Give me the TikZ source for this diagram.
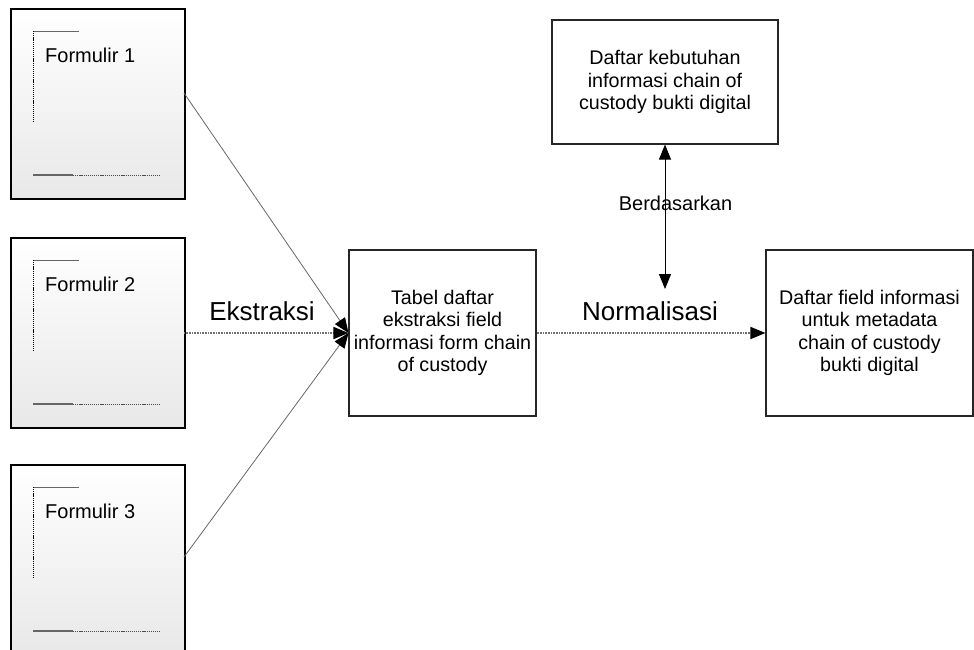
\documentclass[tikz,border=0pt]{standalone}
\usepackage{fontspec}
\setmainfont{Liberation Sans}
\usetikzlibrary{calc,arrows.meta}
\begin{document}
\begin{tikzpicture}[x=1pt,y=-1pt,
  formbox/.style={draw=black,line width=2.2pt,top color=white,bottom color=gray!18,
    minimum width=174pt,minimum height=190pt,inner sep=0pt,anchor=north west},
  procbox/.style={draw=black!85,line width=1.1pt,inner sep=0pt,align=center,
    font=\fontsize{19.7}{22.5}\selectfont},
  normtxt/.style={font=\fontsize{20}{22.5}\selectfont,inner sep=0pt},
  bigtxt/.style={font=\fontsize{26}{30}\selectfont,inner sep=0pt},
  bracketh/.style={draw=black!60,line width=0.8pt},
  bracketv/.style={draw=black,line width=0.8pt,dash pattern=on 1.2pt off 0.9pt},
  conn/.style={draw=black!60,line width=0.8pt},
  dotconn/.style={draw=black!55,line width=1.6pt,dash pattern=on 0.8pt off 0.8pt},
  tip/.style={-{Triangle[length=15pt,width=12pt,color=black]}},
]
\useasboundingbox (0,0) rectangle (974,649);
\clip (0,0) rectangle (974,649);

% form boxes
\foreach \n/\y in {1/8,2/237,3/464}{
  \node[formbox] (f\n) at (10,\y) {};
  \draw[bracketh] ($(f\n.north west)+(23,23)$) -- ($(f\n.north west)+(69,23)$);
  \draw[bracketv] ($(f\n.north west)+(23,23)$) -- ($(f\n.north west)+(23,114)$);
  \draw[bracketh,line width=1.1pt] ($(f\n.north west)+(23,167)$) -- ($(f\n.north west)+(63,167)$);
  \draw[bracketv,draw=black!70] ($(f\n.north west)+(63,167)$) -- ($(f\n.north west)+(151,167)$);
  \node[normtxt,anchor=base west] (t\n) at ($(f\n.north west)+(35,54)$) {Formulir \n};
}

% process boxes
\node[procbox,minimum width=187pt,minimum height=166pt] (tabel) at (442.5,333)
  {Tabel daftar\\ekstraksi field\\informasi form chain\\of custody};
\node[procbox,minimum width=226pt,minimum height=124pt] (keb) at (665,82)
  {Daftar kebutuhan\\informasi chain of\\custody bukti digital};
\node[procbox,minimum width=207pt,minimum height=166pt] (hasil) at (869.5,333)
  {Daftar field informasi\\untuk metadata\\chain of custody\\bukti digital};

% connectors
\coordinate (f1e) at (184,93);
\coordinate (f2e) at (184,333);
\coordinate (f3e) at (184,557);
\coordinate (nrm) at (665,289);
\draw[conn,tip] (f1e) -- (tabel.west);
\draw[conn,tip] (f3e) -- (tabel.west);
\draw[dotconn,tip] (f2e) -- (tabel.west);
\draw[dotconn,tip] (tabel.east) -- (hasil.west);
\draw[draw=black,line width=0.9pt,{Triangle[length=15pt,width=12pt]}-{Triangle[length=15pt,width=12pt]}] (keb.south) -- (nrm);

% labels
\node[bigtxt] (lek) at (262,311) {Ekstraksi};
\node[bigtxt] (lno) at (650,311) {Normalisasi};
\node[normtxt] (lbe) at (675.5,203) {Berdasarkan};
\end{tikzpicture}
\end{document}
